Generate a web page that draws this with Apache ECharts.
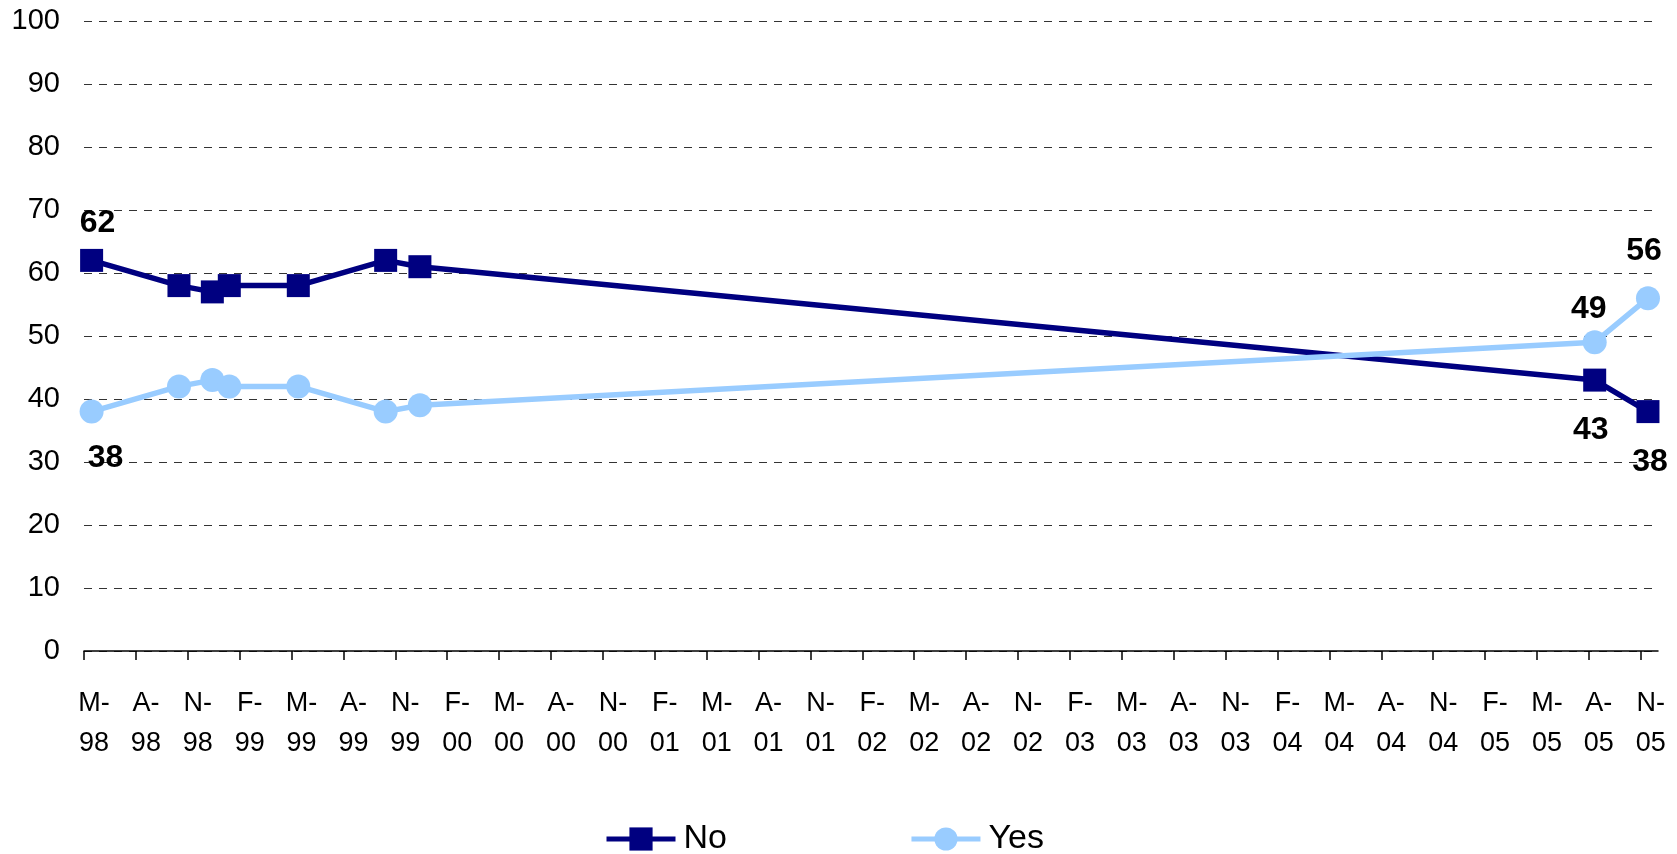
<!DOCTYPE html>
<html>
<head>
<meta charset="utf-8">
<script src="https://cdn.jsdelivr.net/npm/echarts@6/dist/echarts.min.js"></script>
<style>
html,body{margin:0;padding:0;background:#fff;}
#chart{width:1677px;height:854px;}
</style>
</head>
<body>
<div id="chart"></div>
<script>
// Months since May 1998 (survey dates)
const surveyMonths = [0.44, 5.49, 7.42, 8.40, 12.39, 17.44, 19.42, 87.34, 90.42];
const noValues  = [62, 58, 57, 58, 58, 62, 61, 43, 38];
const yesValues = [38, 42, 43, 42, 42, 38, 39, 49, 56];
const tickLabels = ['M-\n98','A-\n98','N-\n98','F-\n99','M-\n99','A-\n99','N-\n99','F-\n00','M-\n00','A-\n00','N-\n00','F-\n01','M-\n01','A-\n01','N-\n01','F-\n02','M-\n02','A-\n02','N-\n02','F-\n03','M-\n03','A-\n03','N-\n03','F-\n04','M-\n04','A-\n04','N-\n04','F-\n05','M-\n05','A-\n05','N-\n05'];
const seriesNames = ['No', 'Yes'];

const FONT = '"Liberation Sans", Arial, sans-serif';
const tickValues = tickLabels.map((_, i) => i * 3);

// label placement (style only)
const noLabelOffsets = {0: [6, -37], 7: [-4, 50], 8: [2, 51]};
const yesLabelOffsets = {0: [14, 47], 7: [-6, -33], 8: [-4, -47]};

function build(values, offsets) {
  return values.map((v, i) => {
    const item = {value: [surveyMonths[i], v]};
    if (offsets[i]) {
      item.label = {show: true, position: 'inside', offset: offsets[i]};
    }
    return item;
  });
}

const labelStyle = {show: false, fontSize: 32, fontWeight: 'bold', color: '#000', fontFamily: FONT, formatter: p => p.value[1]};

const chart = echarts.init(document.getElementById('chart'), null, {renderer: 'canvas'});
chart.setOption({
  animation: false,
  backgroundColor: '#fff',
  grid: {left: 84, right: 19, top: 21, bottom: 203, containLabel: false},
  legend: {
    data: seriesNames,
    left: 604, top: 822,
    padding: 0,
    itemWidth: 69, itemHeight: 29, itemGap: 182,
    lineStyle: {width: 5},
    textStyle: {fontSize: 34, color: '#000', fontFamily: FONT, padding: [0, 0, 0, 3]}
  },
  xAxis: {
    type: 'value', min: 0, max: 91, interval: 3,
    axisLine: {show: true, lineStyle: {color: '#000', width: 1.5}},
    axisTick: {show: true, customValues: tickValues, length: 9, lineStyle: {color: '#000', width: 1.5}},
    axisLabel: {
      customValues: tickValues,
      formatter: v => tickLabels[Math.round(v / 3)] || '',
      fontSize: 27, lineHeight: 40, margin: 33, color: '#000', fontFamily: FONT,
      padding: [0, 0, 0, 20]
    },
    splitLine: {show: false}
  },
  yAxis: {
    type: 'value', min: 0, max: 100, interval: 10,
    axisLine: {show: false}, axisTick: {show: false},
    axisLabel: {fontSize: 29, margin: 24, color: '#000', fontFamily: FONT},
    splitLine: {show: true, lineStyle: {type: [8, 7], color: '#333', width: 1}}
  },
  series: [
    {
      name: seriesNames[0], type: 'line', symbol: 'rect', symbolSize: 23,
      color: '#000080', itemStyle: {color: '#000080'},
      lineStyle: {color: '#000080', width: 5.5},
      label: labelStyle,
      data: build(noValues, noLabelOffsets)
    },
    {
      name: seriesNames[1], type: 'line', symbol: 'circle', symbolSize: 24,
      color: '#99CCFF', itemStyle: {color: '#99CCFF'},
      lineStyle: {color: '#99CCFF', width: 5.5},
      label: labelStyle,
      data: build(yesValues, yesLabelOffsets)
    }
  ]
});
</script>
</body>
</html>
